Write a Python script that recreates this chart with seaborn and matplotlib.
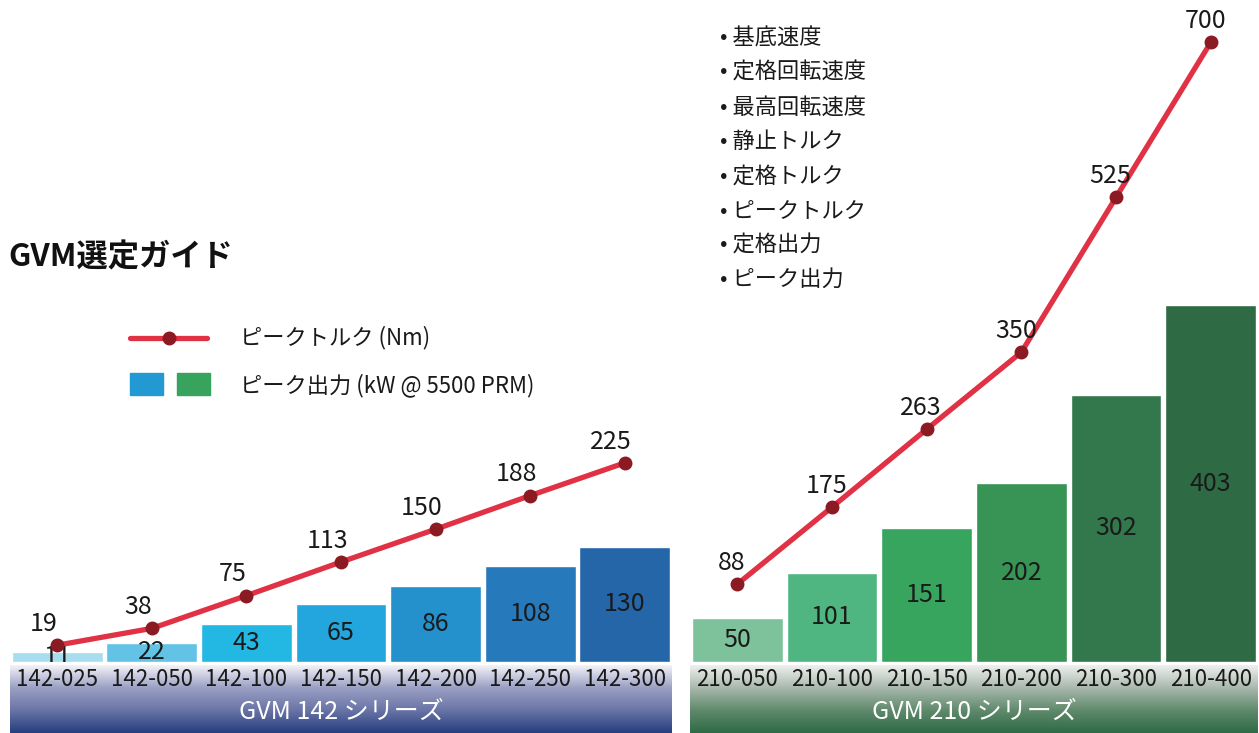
import numpy as np
import matplotlib.pyplot as plt
import seaborn as sns
from matplotlib.colors import LinearSegmentedColormap
from matplotlib.lines import Line2D
from matplotlib.patches import Rectangle

# data
models_142 = ["142-025", "142-050", "142-100", "142-150", "142-200", "142-250", "142-300"]
power_142 = [11, 22, 43, 65, 86, 108, 130]
torque_142 = [19, 38, 75, 113, 150, 188, 225]

models_210 = ["210-050", "210-100", "210-150", "210-200", "210-300", "210-400"]
power_210 = [50, 101, 151, 202, 302, 403]
torque_210 = [88, 175, 263, 350, 525, 700]

specs = ["基底速度", "定格回転速度", "最高回転速度", "静止トルク",
         "定格トルク", "ピークトルク", "定格出力", "ピーク出力"]

blues = ["#a8dcef", "#62c3e6", "#22b8e3", "#22a6dd", "#2490cc", "#2679bb", "#2566a8"]
greens = ["#7dc29b", "#4fb681", "#38a55f", "#389455", "#33784c", "#2e6b45"]
line_red = "#e03145"
dot_red = "#8b1a22"

sns.set_theme(style="white")
plt.rcParams["font.family"] = ["Noto Sans CJK JP", "DejaVu Sans"]

W, H = 1259, 733
fig = plt.figure(figsize=(W / 100, H / 100), dpi=100)
fig.patch.set_facecolor("white")

y_top = 748  # value at top of figure


def panel(x0, x1, models, power, torque, colors, band_colors, series, label_dx):
    # gradient band under the bars
    band = fig.add_axes([x0 / W, 0, (x1 - x0) / W, 68 / H])
    cmap = LinearSegmentedColormap.from_list("band", band_colors)
    grad = np.linspace(0, 1, 100).reshape(-1, 1)
    band.imshow(grad, aspect="auto", cmap=cmap, extent=[0, 1, 0, 1], origin="upper")
    band.set_axis_off()
    band.text(0.5, 0.31, series, color="white", fontsize=18, ha="center", va="center",
              transform=band.transAxes)

    ax = fig.add_axes([x0 / W, (H - 662) / H, (x1 - x0) / W, 662 / H])
    ax.patch.set_alpha(0)
    sns.barplot(x=models, y=power, hue=models, palette=colors, legend=False,
                width=0.96, saturation=1, ax=ax)
    idx = np.arange(len(models))
    sns.lineplot(x=idx, y=torque, color=line_red, linewidth=3.8, ax=ax, zorder=3)
    ax.plot(idx, torque, "o", color=dot_red, markersize=9, zorder=4)
    ax.set_xlim(-0.5, len(models) - 0.5)
    ax.set_ylim(0, y_top)
    ax.set_xlabel("")
    ax.set_ylabel("")
    ax.set_yticks([])
    ax.tick_params(axis="x", length=0, pad=4, labelsize=16, labelcolor="#1a1a1a")
    sns.despine(ax=ax, left=True, bottom=True)

    for i, v in enumerate(power):
        ax.text(i, v / 2, str(v), ha="center", va="center", fontsize=18,
                color="#1a1a1a", clip_on=True)
    for i, v in enumerate(torque):
        ax.annotate(str(v), (i, v), xytext=(label_dx, 6), textcoords="offset points",
                    ha="center", va="bottom", fontsize=18, color="#1a1a1a")
    return ax


panel(10, 672, models_142, power_142, torque_142, blues,
      ["#f2f2f7", "#9aa0c4", "#6a74a6", "#26407f"], "GVM 142 シリーズ", -10)
panel(690, 1258, models_210, power_210, torque_210, greens,
      ["#eef0ee", "#a9b8ad", "#5f8a6c", "#2f6b47"], "GVM 210 シリーズ", -4)

# title
fig.text(8 / W, 1 - 258 / H, "GVM選定ガイド", fontsize=22.5, fontweight="bold",
         ha="left", va="center", color="#111111")

# legend
fig.add_artist(Line2D([130 / W, 207 / W], [1 - 338 / H] * 2, color=line_red, linewidth=3.8))
fig.add_artist(Line2D([169 / W], [1 - 338 / H], marker="o", color=dot_red, markersize=9))
fig.add_artist(Rectangle((130 / W, 1 - 395 / H), 33 / W, 22 / H, color="#2399d3",
                         transform=fig.transFigure))
fig.add_artist(Rectangle((177 / W, 1 - 395 / H), 33 / W, 22 / H, color="#37a35c",
                         transform=fig.transFigure))
fig.text(240 / W, 1 - 338 / H, "ピークトルク (Nm)", fontsize=16, va="center", color="#1a1a1a")
fig.text(240 / W, 1 - 385 / H, "ピーク出力 (kW @ 5500 PRM)", fontsize=16, va="center",
         color="#1a1a1a")

# spec list
for k, s in enumerate(specs):
    fig.text(720 / W, 1 - (38 + k * 34.5) / H, "• " + s, fontsize=16, va="center",
             color="#1a1a1a")

fig.savefig("out.png", dpi=100)
